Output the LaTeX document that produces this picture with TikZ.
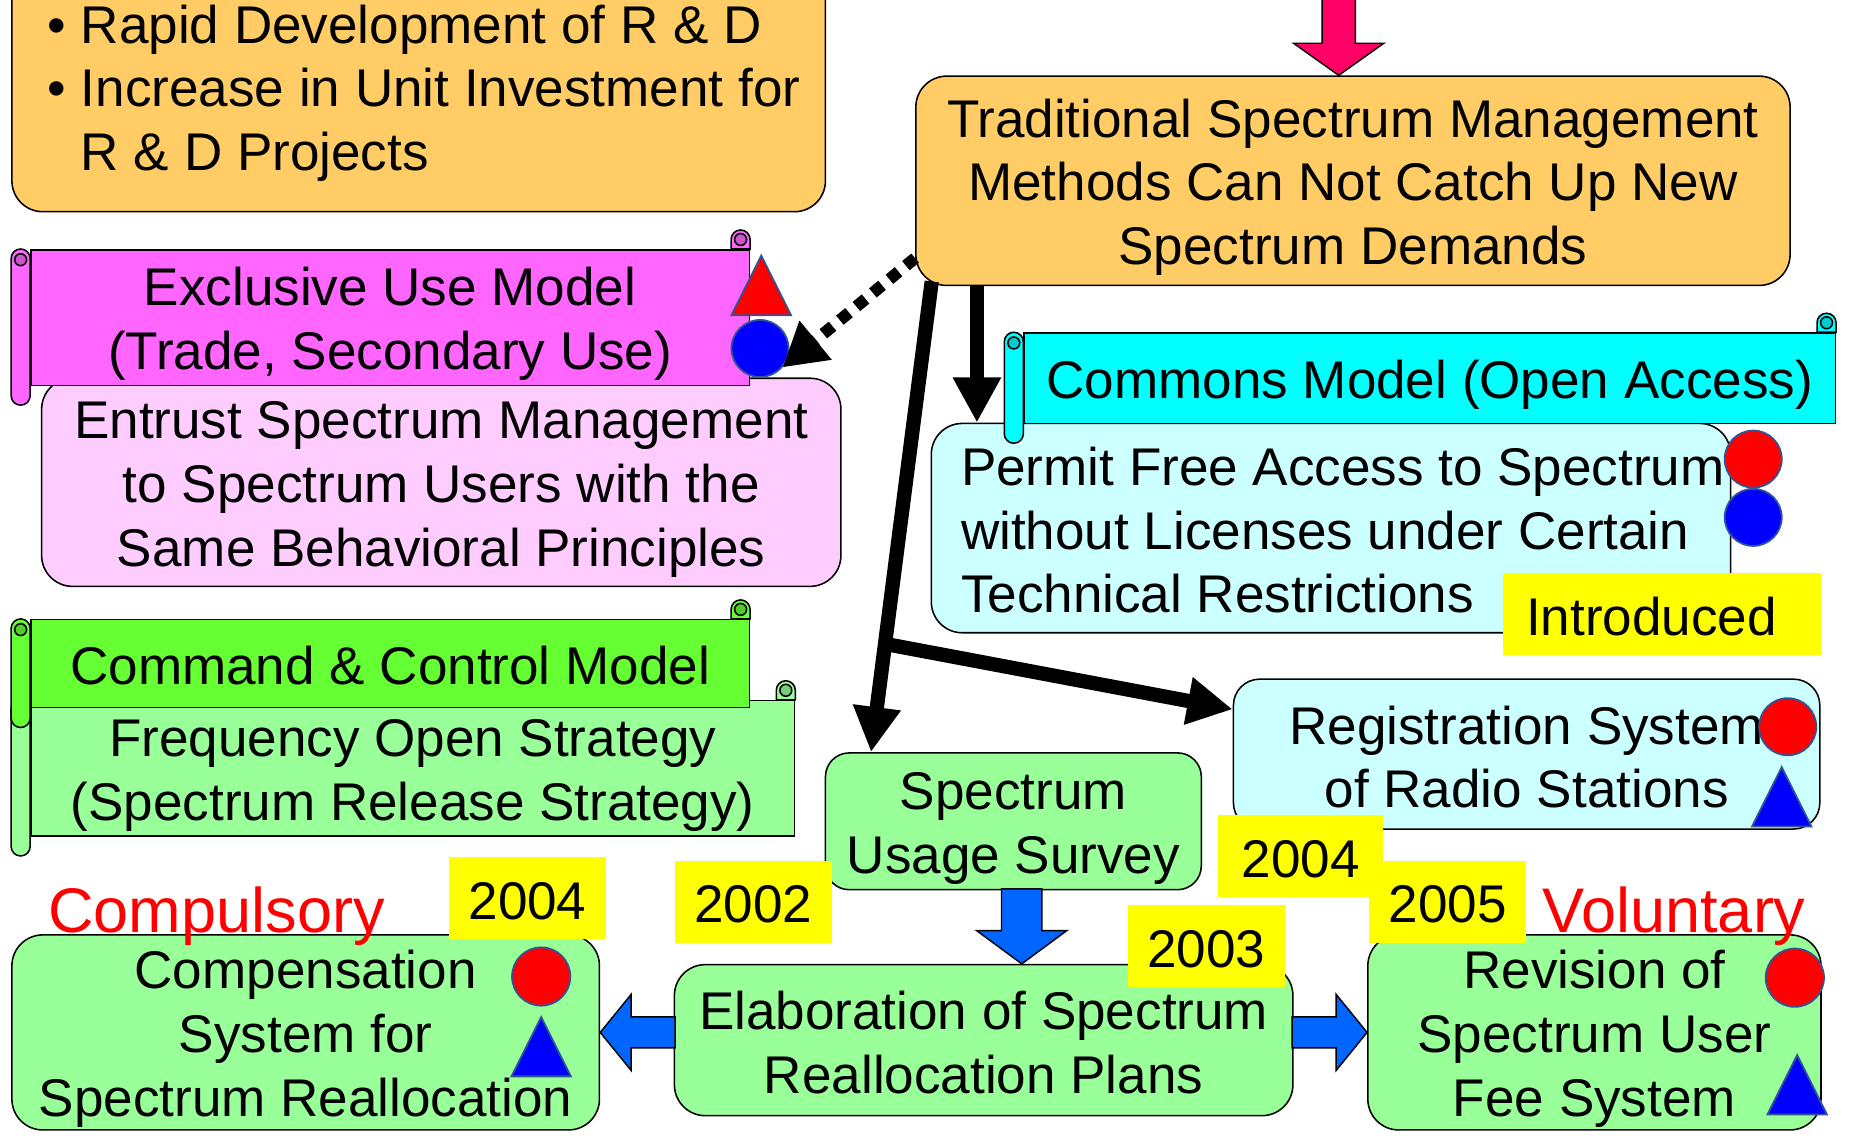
\documentclass[tikz,border=0pt]{standalone}
\usepackage{fontspec}
\setmainfont{Liberation Sans}
\usetikzlibrary{arrows.meta,calc,shapes.geometric}

\definecolor{boxorange}{HTML}{FFCC66}
\definecolor{boxpink}{HTML}{FFCCFF}
\definecolor{boxcyan}{HTML}{CCFFFF}
\definecolor{boxgreen}{HTML}{99FF99}
\definecolor{scrollmagenta}{HTML}{FF66FF}
\definecolor{curlmagenta}{HTML}{CC55CC}
\definecolor{scrollgreen}{HTML}{66FF33}
\definecolor{curlgreen}{HTML}{52CC29}
\definecolor{scrollpale}{HTML}{99FF99}
\definecolor{curlpale}{HTML}{7ACC7A}
\definecolor{scrollcyan}{HTML}{00FFFF}
\definecolor{curlcyan}{HTML}{00CCCC}
\definecolor{arrowblue}{HTML}{0066FF}
\definecolor{pushred}{HTML}{FF0066}
\definecolor{labelyellow}{HTML}{FFFF00}
\definecolor{spotline}{HTML}{2F5597}

% rolled ends of a scroll banner around its body node
\newcommand{\scrollends}[3]{%
  \filldraw[fill=#2] (#1.north east) [rounded corners=8pt] -- ++(0,-16) -- ++(-16,0) [sharp corners] -- ++(0,16) -- cycle;
  \filldraw[fill=#3] ($(#1.north east)+(-8,-8)$) circle[radius=5pt];
  \filldraw[fill=#2,rounded corners=8pt] (#1.north west) rectangle ($(#1.south west)+(-16,16)$);
  \filldraw[fill=#3] ($(#1.north west)+(-8,9)$) circle[radius=5pt];
}

\begin{document}
\begin{tikzpicture}[x=1pt, y=-1pt, line width=1.3pt,
every node/.style={font=\fontsize{44.6}{53.5}\selectfont},
lift/.code={\def\liftheight{#1}}, lift=43pt,
plaintext/.style={execute at begin node={\spaceskip=\fontdimen2\font\relax\rule{0pt}{\liftheight}}},
box/.style={draw, line width=1.3pt, rounded corners=26pt, align=center, inner sep=0pt,
  minimum width=#1, text width=#1, plaintext},
scrollbody/.style={draw, line width=1.3pt, align=center, inner sep=0pt,
  minimum width=#1, text width=#1, plaintext},
spot/.style={circle, draw=spotline, line width=1.5pt, minimum size=48pt, inner sep=0pt},
peak/.style={isosceles triangle, isosceles triangle stretches=true, shape border rotate=90,
  draw=spotline, line width=1.5pt, minimum width=50pt, minimum height=50pt, inner sep=0pt, anchor=apex},
year/.style={fill=labelyellow, minimum width=132pt, minimum height=69pt, inner sep=0pt,
  text height=36pt, text depth=0pt},
redword/.style={text=red, font=\fontsize{53}{64}\selectfont, inner sep=0pt},
fatarrow/.style={line width=12pt, -{Triangle[length=38pt,width=38pt]}},
dotarrow/.style={line width=10pt, dash pattern=on 10pt off 8pt, -{Triangle[length=36pt,width=40pt]}},
blockarrow/.style={draw, line width=1.2pt}]
\useasboundingbox (0,0) rectangle (1568,957);

\node[box=684pt, fill=boxorange, minimum height=210pt, align=left] (drivers) at (352,73)
    {\leftskip=30pt • Rapid Development of R \& D\\• Increase in Unit Investment for\\\leavevmode\hphantom{• }R \& D Projects\par};
\node[box=735pt, fill=boxorange, minimum height=176pt] (trad) at (1137.5,152)
    {Traditional Spectrum Management\\Methods Can Not Catch Up New\\Spectrum Demands};
\coordinate (pushtip) at ($(trad.north)+(-12,0)$);
\draw[blockarrow, fill=pushred] (pushtip) -- ++(-38,-27) -- ++(24,0) -- ++(0,-45) -- ++(28,0) -- ++(0,45) -- ++(24,0) -- cycle;

\node[box=672pt, fill=boxpink, minimum height=175pt] (entrust) at (371,405.5)
    {Entrust Spectrum Management\\to Spectrum Users with the\\Same Behavioral Principles};
\node[scrollbody=604pt, fill=scrollmagenta, minimum height=114pt] (excl) at (328,267)
    {Exclusive Use Model\\(Trade, Secondary Use)};
\scrollends{excl}{scrollmagenta}{curlmagenta}
\node[peak, fill=red] (exred) at (640,213) {};
\node[spot, fill=blue] (exblue) at (639,293) {};
\draw[dotarrow] ($(trad.west)+(0,65)$) -- (exblue.-40);

\node[scrollbody=642pt, fill=scrollpale, minimum height=114pt] (fos) at (347,646)
    {Frequency Open Strategy\\(Spectrum Release Strategy)};
\scrollends{fos}{scrollpale}{curlpale}
\node[scrollbody=604pt, fill=scrollgreen, minimum height=74pt, lift=36pt] (cc) at (328,558)
    {Command \& Control Model};
\scrollends{cc}{scrollgreen}{curlgreen}

\node[box=672pt, fill=boxcyan, minimum height=176pt, align=left, lift=36pt] (perm) at (1119,444)
    {\leftskip=25pt \rightskip=-20pt plus 1fil Permit Free Access to Spectrum\\without Licenses under Certain\\Technical Restrictions\par};
\node[scrollbody=682pt, fill=scrollcyan, minimum height=76pt] (com) at (1202,318)
    {Commons Model (Open Access)};
\scrollends{com}{scrollcyan}{curlcyan}
\node[spot, fill=red] (pmred) at (1474,386) {};
\node[spot, fill=blue] (pmblue) at (1474,435) {};

\node[box=493pt, fill=boxcyan, rounded corners=22pt, minimum height=126pt, lift=37pt] (reg) at (1283.5,634)
    {Registration System\\of Radio Stations};
\node[spot, fill=red] (rgred) at (1503,611) {};
\node[peak, fill=blue] (rgblue) at (1498,643) {};
\node[box=316pt, fill=boxgreen, rounded corners=20pt, minimum height=115pt] (survey) at (852,690.5)
    {Spectrum\\Usage Survey};

\draw[fatarrow] ($(trad.south west)+(52,0)$) -- ($(perm.north west)+(39,0)$);
\draw[fatarrow] ($(trad.south west)+(14,-4)$) coordinate (fork) -- ($(survey.north west)+(39,0)$) coordinate (forkend);
\draw[fatarrow] ($(fork)!0.77!(forkend)$) -- ($(reg.north west)+(0,26)$);

\node[box=520pt, fill=boxgreen, minimum height=127pt, lift=36pt] (elab) at (827,874.5)
    {Elaboration of Spectrum\\Reallocation Plans};
\node[box=494pt, fill=boxgreen, minimum height=164pt] (comp) at (257,868)
    {Compensation\\System for\\Spectrum Reallocation};
\node[box=381pt, fill=boxgreen, minimum height=164pt] (rev) at (1340.5,868)
    {Revision of\\Spectrum User\\Fee System};
\node[spot, fill=red, minimum size=49pt] (cpred) at (455,821) {};
\node[peak, fill=blue] (cpblue) at (455,853) {};
\node[spot, fill=red, minimum size=49pt] (rvred) at (1509,822) {};
\node[peak, fill=blue] (rvblue) at (1511,885) {};

\draw[blockarrow, fill=arrowblue] ($(survey.south |- elab.north)+(7,0)$) -- ++(-38,-28) -- ++(21,0) -- ++(0,-35) -- ++(34,0) -- ++(0,35) -- ++(21,0) -- cycle;
\draw[blockarrow, fill=arrowblue] (comp.east) -- ++(26,-32) -- ++(0,19) -- ++(37,0) -- ++(0,26) -- ++(-37,0) -- ++(0,19) -- cycle;
\draw[blockarrow, fill=arrowblue] (rev.west) -- ++(-26,-32) -- ++(0,19) -- ++(-37,0) -- ++(0,26) -- ++(37,0) -- ++(0,19) -- cycle;

\node[year] (y04a) at (443.5,755) {2004};
\node[year] (y02) at (633.5,758) {2002};
\node[year, minimum width=139pt] (y04b) at (1093.5,719.5) {2004};
\node[year] (y03) at (1014,795.5) {2003};
\node[year] (y05) at (1217,758) {2005};
\node[year, minimum width=267pt, text width=229pt, align=left] (intro) at (1397.5,516.5) {Introduced};
\node[redword] (compulsory) at (182,770) {Compulsory};
\node[redword] (voluntary) at (1407.5,770) {Voluntary};
\end{tikzpicture}
\end{document}
